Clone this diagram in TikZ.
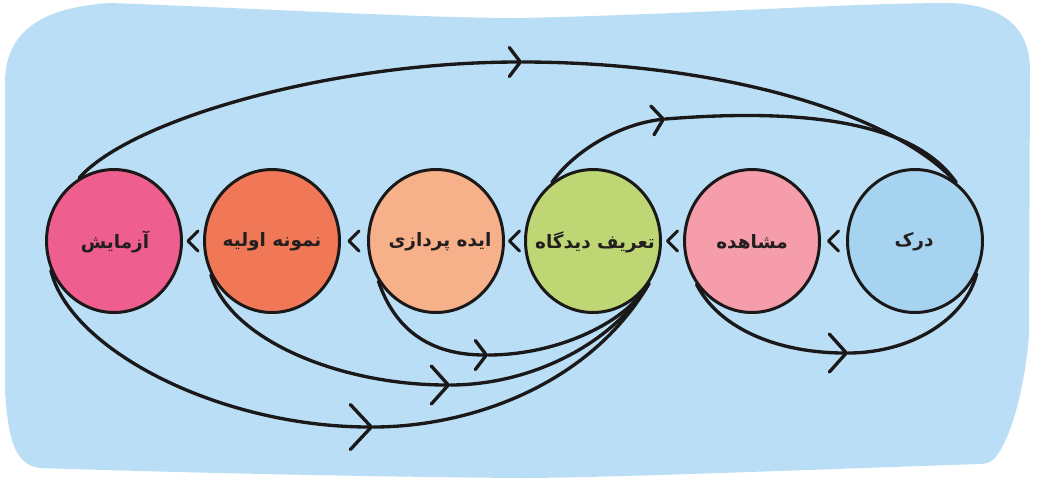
\documentclass[tikz,border=0pt]{standalone}
\usepackage{fontspec}
\usetikzlibrary{arrows.meta,shapes.geometric,calc}
\TeXXeTstate=1
\newfontfamily\arabicfont[Script=Arabic]{DejaVu Sans}
\newcommand\fatxt[1]{{\arabicfont\bfseries\beginR #1\endR}}
\definecolor{bgblue}{RGB}{186,222,245}
\definecolor{ink}{RGB}{26,24,24}
\definecolor{txtc}{RGB}{35,31,32}
\definecolor{cpinkA}{RGB}{238,94,143}
\definecolor{corange}{RGB}{240,120,87}
\definecolor{clorange}{RGB}{246,176,138}
\definecolor{cgreen}{RGB}{190,214,115}
\definecolor{cpinkB}{RGB}{245,157,170}
\definecolor{cblue}{RGB}{166,211,239}
\tikzset{
  circ/.style={ellipse, draw=ink, line width=1.7pt, minimum width=2.7cm, minimum height=2.86cm,
    inner sep=0pt},
  lbl/.style={inner sep=0pt, text=txtc, font=\fontsize{10.5}{12.5}\selectfont},
  conn/.style={draw=ink, line width=1.9pt, line cap=round},
  chev/.style={draw=ink, line width=1.7pt, line cap=round, line join=round},
  tipL/.style={-{Straight Barb[length=0.42cm,width=0.9cm,round]}},
  tipM/.style={-{Straight Barb[length=0.34cm,width=0.76cm,round]}},
  tipS/.style={-{Straight Barb[length=0.22cm,width=0.58cm,round]}}
}
\begin{document}
\begin{tikzpicture}[x=0.02cm,y=-0.02cm]
\useasboundingbox (0,0) rectangle (1037,485);
% background blob
\fill[bgblue] (5,390) -- (5,83) .. controls (5,40) and (30,8) .. (110,3)
  .. controls (250,8) and (420,18) .. (520,18)
  .. controls (700,14) and (850,3) .. (950,3)
  .. controls (1000,5) and (1030,25) .. (1030,70)
  -- (1029,333) .. controls (1025,390) and (1010,440) .. (995,458)
  .. controls (990,463) and (985,464) .. (980,464)
  .. controls (800,470) and (600,478) .. (518,478)
  .. controls (300,476) and (100,470) .. (40,468)
  .. controls (15,465) and (8,440) .. (5,390) -- cycle;
% circles
\node[circ, fill=cpinkA] (c1) at (114,241) {};
\node[circ, fill=corange] (c2) at (272,241) {};
\node[circ, fill=clorange] (c3) at (436,241) {};
\node[circ, fill=cgreen] (c4) at (593,241) {};
\node[circ, fill=cpinkB] (c5) at (752,241) {};
\node[circ, fill=cblue] (c6) at (915,241) {};
% labels
\node[lbl] (t1) at (115,242) {\fatxt{آزمایش}};
\node[lbl] (t2) at (272,242) {\fatxt{نمونه اولیه}};
\node[lbl] (t3) at (440,242) {\fatxt{ایده پردازی}};
\node[lbl] (t4) at (595,242) {\fatxt{تعریف دیدگاه}};
\node[lbl] (t5) at (752,242) {\fatxt{مشاهده}};
\node[lbl] (t6) at (914,242) {\fatxt{درک}};
% chevrons
\foreach \a/\b in {c1/c2,c2/c3,c3/c4,c4/c5,c5/c6}{
  \draw[chev] ($(\a.east)!0.5!(\b.west)$) ++(5,-10) -- ++(-10,10) -- ++(10,10);
}
% arrow apex coordinates
\coordinate (p1) at (522,62);
\coordinate (p2) at (665,119);
\coordinate (p3) at (373,427);
\coordinate (p4) at (450,385);
\coordinate (p5) at (488,355);
\coordinate (p6) at (848,353);
% top big arc
\draw[conn, tipS] (c1.119) .. controls (130,120) and (330,62) .. (p1);
\draw[conn] (p1) .. controls (712,62) and (890,110) .. (c6.55);
% second top arc
\draw[conn, tipS] (c4.125) .. controls (575,150) and (620,124) .. (p2);
\draw[conn] (p2) .. controls (755,112) and (905,108) .. (c6.55);
% bottom arcs
\draw[conn, tipL] (c1.205) .. controls (70,350) and (220,427) .. (p3);
\draw[conn] (p3) .. controls (470,427) and (590,385) .. (c4.-37);
\draw[conn, tipM] (c2.209) .. controls (230,340) and (340,385) .. (p4);
\draw[conn] (p4) .. controls (530,385) and (610,345) .. (c4.-40);
\draw[conn, tipS] (c3.215) .. controls (395,330) and (430,355) .. (p5);
\draw[conn] (p5) .. controls (555,355) and (620,325) .. (c4.-44);
\draw[conn, tipM] (c5.218) .. controls (720,330) and (780,353) .. (p6);
\draw[conn] (p6) .. controls (910,353) and (965,320) .. (c6.-28);
\end{tikzpicture}
\end{document}
